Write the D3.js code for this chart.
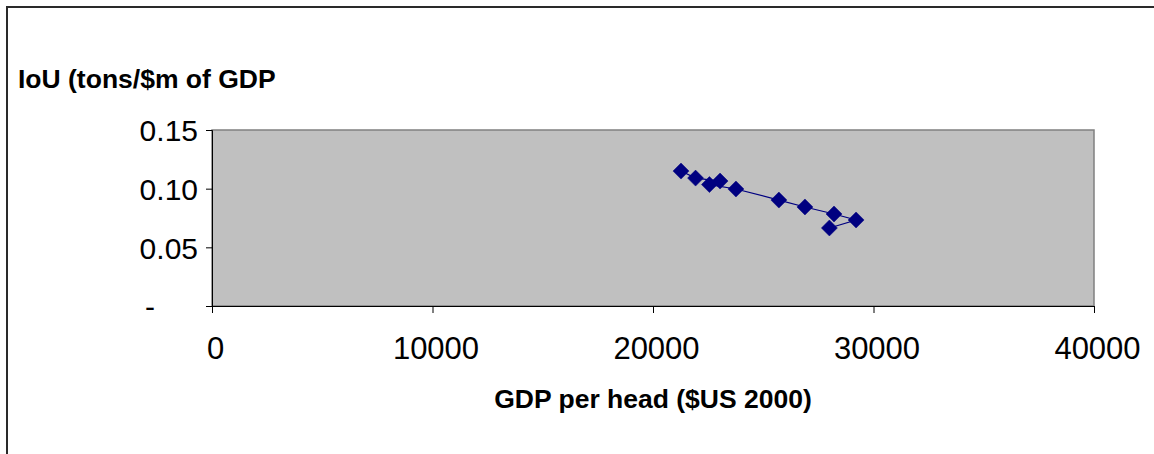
<!DOCTYPE html>
<html>
<head>
<meta charset="utf-8">
<script src="https://cdn.jsdelivr.net/npm/d3@7"></script>
<style>
  html, body { margin: 0; padding: 0; background: #ffffff; }
  svg { display: block; }
  text { font-family: "Liberation Sans", Arial, sans-serif; fill: #000; }
</style>
</head>
<body>
<svg id="chart" width="1154" height="454"></svg>
<script>
// GDP per head ($US 2000) and intensity of use, in series order
const gdpPerHead = [21270, 21930, 23040, 22560, 23760, 25710, 26890, 28210, 29210, 28000];
const iouValues  = [0.1150, 0.1090, 0.1065, 0.1035, 0.0997, 0.0903, 0.0844, 0.0784, 0.0733, 0.0665];
const xTicks = [0, 10000, 20000, 30000, 40000];
const yTicks = [0, 0.05, 0.10, 0.15];
const xTitle = "GDP per head ($US 2000)";
const yTitle = "IoU (tons/$m of GDP";

const svg = d3.select("#chart");

// chart frame
svg.append("rect")
  .attr("x", 7).attr("y", 7)
  .attr("width", 1300).attr("height", 600)
  .attr("fill", "none").attr("stroke", "#2a2a2a").attr("stroke-width", 2);

const plot = { left: 212, top: 130, right: 1094, bottom: 306 };

const x = d3.scaleLinear().domain([0, 40000]).range([plot.left, plot.right]);
const y = d3.scaleLinear().domain([0, 0.15]).range([plot.bottom, plot.top]);

// plot area
svg.append("rect")
  .attr("x", plot.left).attr("y", plot.top)
  .attr("width", plot.right - plot.left).attr("height", plot.bottom - plot.top)
  .attr("fill", "#c0c0c0").attr("stroke", "#808080").attr("stroke-width", 1.5);

// y axis
const yAxis = svg.append("g")
  .attr("transform", `translate(${plot.left},0)`)
  .call(d3.axisLeft(y).tickValues(yTicks).tickSizeOuter(0).tickSize(6).tickPadding(8)
    .tickFormat(d => d === 0 ? "-" : d3.format(".2f")(d)));
yAxis.select(".domain").attr("stroke", "#000");
yAxis.selectAll(".tick line").attr("stroke", "#000");
yAxis.selectAll(".tick text")
  .attr("font-size", 30)
  .attr("font-family", "Liberation Sans, Arial, sans-serif")
  .attr("dy", "0.36em")
  .attr("dx", d => d === 0 ? -43 : 0);

// x axis
const xAxis = svg.append("g")
  .attr("transform", `translate(0,${plot.bottom})`)
  .call(d3.axisBottom(x).tickValues(xTicks).tickSizeOuter(0).tickSize(7).tickPadding(24)
    .tickFormat(d3.format("d")));
xAxis.select(".domain").attr("stroke", "#000");
xAxis.selectAll(".tick line").attr("stroke", "#000");
xAxis.selectAll(".tick text")
  .attr("font-size", 31)
  .attr("dx", 3)
  .attr("font-family", "Liberation Sans, Arial, sans-serif");

// axis titles
svg.append("text")
  .attr("x", (plot.left + plot.right) / 2).attr("y", 408)
  .attr("text-anchor", "middle")
  .attr("font-size", 26.5).attr("font-weight", "bold")
  .text(xTitle);

svg.append("text")
  .attr("x", 18).attr("y", 88)
  .attr("font-size", 26.5).attr("font-weight", "bold")
  .text(yTitle);

// series
const pts = gdpPerHead.map((g, i) => ({ g, v: iouValues[i] }));

svg.append("path")
  .datum(pts)
  .attr("fill", "none")
  .attr("stroke", "#000080")
  .attr("stroke-width", 1.2)
  .attr("d", d3.line().x(d => x(d.g)).y(d => y(d.v)));

const diamond = "M0,-8L8,0L0,8L-8,0Z";
svg.append("g").selectAll("path")
  .data(pts)
  .join("path")
  .attr("d", diamond)
  .attr("transform", d => `translate(${x(d.g)},${y(d.v)})`)
  .attr("fill", "#000080")
  .attr("stroke", "#000080")
  .attr("stroke-width", 0.5);
</script>
</body>
</html>
